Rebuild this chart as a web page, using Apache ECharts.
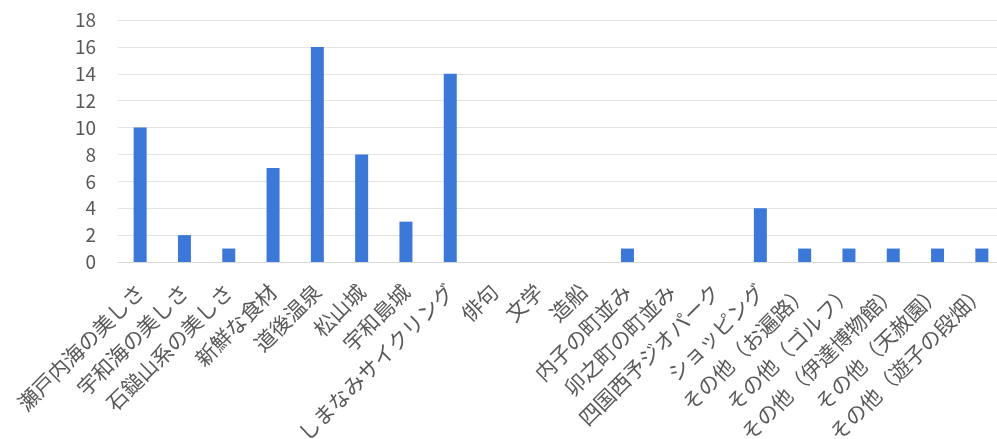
<!DOCTYPE html>
<html>
<head>
<meta charset="utf-8">
<style>
  html, body { margin: 0; padding: 0; background: #ffffff; }
  #chart { width: 997px; height: 439px; }
</style>
<script src="https://cdn.jsdelivr.net/npm/echarts@6/dist/echarts.min.js"></script>
</head>
<body>
<div id="chart"></div>
<script>
// 魅力に感じた項目ごとの回答数
const categories = [
  '瀬戸内海の美しさ', '宇和海の美しさ', '石鎚山系の美しさ', '新鮮な食材', '道後温泉',
  '松山城', '宇和島城', 'しまなみサイクリング', '俳句', '文学',
  '造船', '内子の町並み', '卯之町の町並み', '四国西予ジオパーク', 'ショッピング',
  'その他（お遍路）', 'その他（ゴルフ）', 'その他（伊達博物館）', 'その他（天赦園）', 'その他（遊子の段畑）'
];
const counts = [10, 2, 1, 7, 16, 8, 3, 14, 0, 0, 0, 1, 0, 0, 4, 1, 1, 1, 1, 1];
const yTicks = { min: 0, max: 18, interval: 2 };

const chart = echarts.init(document.getElementById('chart'), null, { renderer: 'canvas' });
const fontFamily = '"Noto Sans CJK JP", "Noto Sans", sans-serif';

chart.setOption({
  animation: false,
  backgroundColor: '#ffffff',
  grid: {
    left: 118, top: 20, width: 886, height: 242,
    containLabel: false,
    outerBoundsMode: 'none'
  },
  xAxis: {
    type: 'category',
    data: categories,
    axisLine: { show: true, lineStyle: { color: '#d9d9d9', width: 1 } },
    axisTick: { show: false },
    axisLabel: {
      interval: 0,
      rotate: 45,
      margin: 26,
      color: '#595959',
      fontSize: 21,
      fontFamily: fontFamily
    }
  },
  yAxis: {
    type: 'value',
    min: yTicks.min,
    max: yTicks.max,
    interval: yTicks.interval,
    axisLine: { show: false },
    axisTick: { show: false },
    splitLine: { lineStyle: { color: '#e3e3e3', width: 1 } },
    axisLabel: {
      margin: 22,
      color: '#595959',
      fontSize: 19,
      fontFamily: fontFamily
    }
  },
  series: [{
    type: 'bar',
    data: counts,
    barWidth: 13,
    itemStyle: { color: '#3b78d8' }
  }]
});
</script>
</body>
</html>
